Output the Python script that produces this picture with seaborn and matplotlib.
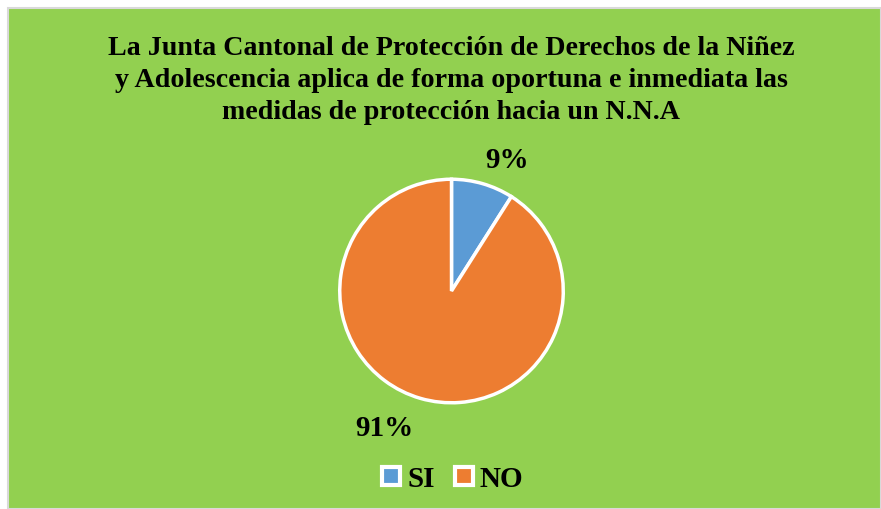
import matplotlib
matplotlib.use("Agg")
import matplotlib.pyplot as plt
import matplotlib.patches as mpatches
import seaborn as sns

# -------------------
# Data
categories = ["SI", "NO"]
values = [9, 91]
colors = ["#5B9BD5", "#ED7D31"]
title = ("La Junta Cantonal de Protección de Derechos de la Niñez\n"
         "y Adolescencia aplica de forma oportuna e inmediata las\n"
         "medidas de protección hacia un N.N.A")

sns.set_style("white")
plt.rcParams['font.family'] = ['Liberation Serif', 'DejaVu Serif']
plt.rcParams['text.color'] = 'black'

W, H = 881, 510
fig = plt.figure(figsize=(W / 100, H / 100), dpi=100, facecolor="white")

# green chart area with thin grey frame
bg = mpatches.Rectangle((8 / W, 0), 1 - 8 / W, 1 - 9 / H, transform=fig.transFigure,
                        facecolor="#92D050", edgecolor="#D9D9D9", linewidth=1.5, zorder=-10)
fig.patches.append(bg)

fig.text(451 / W, 1 - 36 / H, title, ha="center", va="top", fontsize=20.2,
         fontweight="bold", linespacing=1.36, color="black")

# -------------------
# Pie
cx, cy, r = 451.5, 292, 114
ax = fig.add_axes([(cx - r) / W, (H - cy - r) / H, 2 * r / W, 2 * r / H], zorder=5)
ax.patch.set_visible(False)
wedges, texts, autotexts = ax.pie(values, colors=colors, startangle=90, counterclock=False,
                                  autopct="%1.0f%%", pctdistance=1.3,
                                  wedgeprops=dict(edgecolor="white", linewidth=2.5))
ax.set_xlim(-1.02, 1.02)
ax.set_ylim(-1.02, 1.02)
ax.set_aspect("equal")
ax.axis("off")

label_pos = [(0.5, 1.18), (-0.6, -1.22)]
for t, pos in zip(autotexts, label_pos):
    t.set_position(pos)
    t.set_fontsize(21)
    t.set_fontweight("bold")
    t.set_color("black")
    t.set_clip_on(False)

# -------------------
# Legend
handles = [mpatches.Patch(facecolor=c, edgecolor="white", linewidth=3, label=l)
           for c, l in zip(colors, categories)]
leg = fig.legend(handles=handles, loc="center", bbox_to_anchor=(453 / W, 1 - 480 / H), ncol=2,
                 frameon=False, prop=dict(size=21, weight="bold"), handlelength=0.6,
                 handleheight=0.6, handletextpad=0.25, columnspacing=0.7)
for t in leg.get_texts():
    t.set_color("black")

fig.savefig("out.png", dpi=100, facecolor="white")
